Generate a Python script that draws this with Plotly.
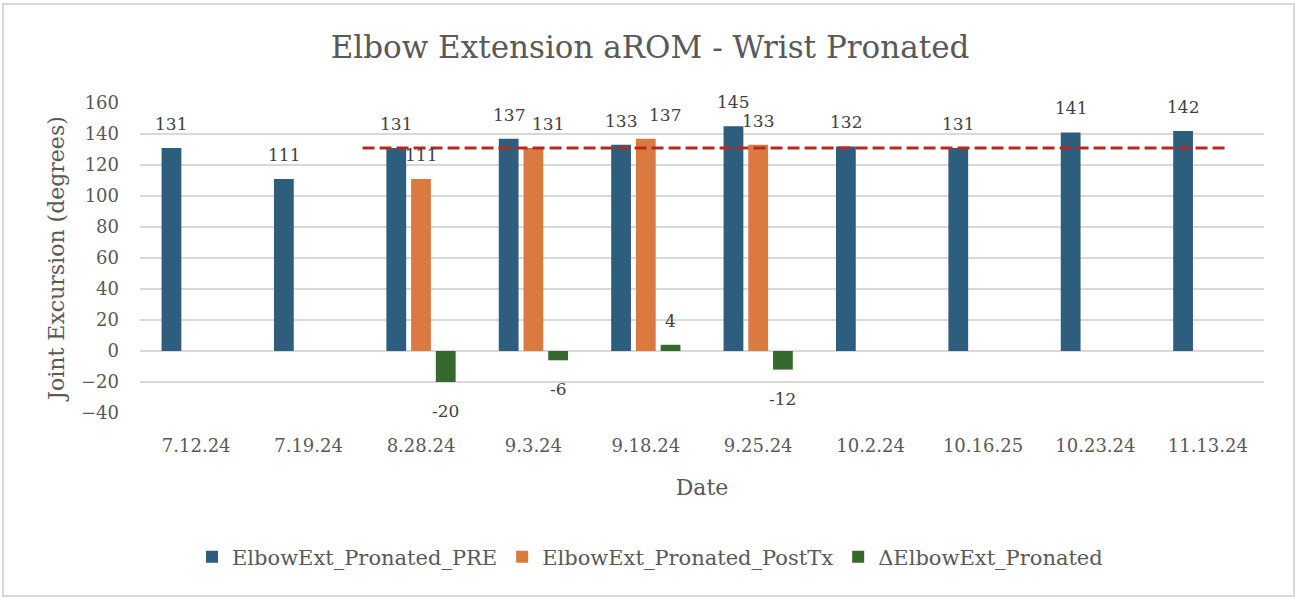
import plotly.graph_objects as go

dates = ["7.12.24", "7.19.24", "8.28.24", "9.3.24", "9.18.24", "9.25.24",
         "10.2.24", "10.16.25", "10.23.24", "11.13.24"]
pre = [131, 111, 131, 137, 133, 145, 132, 131, 141, 142]
post = [None, None, 111, 131, 137, 133, None, None, None, None]
delta = [None, None, -20, -6, 4, -12, None, None, None, None]
ref_level = 131
ref_start, ref_end = 1.48, 9.19

series_names = ["ElbowExt_Pronated_PRE", "ElbowExt_Pronated_PostTx", "\u0394ElbowExt_Pronated"]
colors = ["#2E5E7E", "#DA7940", "#36692E"]
# manual horizontal nudges (px) of a few data labels, as in the original
label_nudge = {(1, "9.3.24"): 15, (1, "9.18.24"): 19}

FONT = "DejaVu Serif"
TXT = "#595959"
W, H = 1300, 603
ML, MR, MT, MB = 140, 36, 103, 190
BARGAP, GROUPGAP = 0.34, 0.2

fig = go.Figure()
for name, vals, col in zip(series_names, [pre, post, delta], colors):
    fig.add_trace(go.Bar(x=dates, y=vals, name=name, marker_color=col,
                         marker_line_width=0))

# dashed reference line
fig.add_shape(type="line", xref="x", yref="y", x0=ref_start, x1=ref_end,
              y0=ref_level, y1=ref_level,
              line=dict(color="#B8281E", width=3, dash="12px,5px"), layer="above")

# data labels
cat_px = (W - ML - MR) / len(dates)
slot_px = (1 - BARGAP) * cat_px / 3
annos = []
for i, vals in enumerate([pre, post, delta]):
    for d, v in zip(dates, vals):
        if v is None:
            continue
        annos.append(dict(x=d, y=v, xref="x", yref="y", text=str(v), showarrow=False,
                          xshift=(i - 1) * slot_px + label_nudge.get((i, d), 0),
                          yshift=24 if v >= 0 else -29,
                          font=dict(family=FONT, size=17, color="#404040")))

# outer frame
x0p = (3 - ML) / (W - ML - MR)
x1p = (1294 - ML) / (W - ML - MR)
ph = H - MT - MB
y0p = (H - MB - 596) / ph
y1p = (H - MB - 4) / ph
fig.add_shape(type="rect", xref="paper", yref="paper", x0=x0p, x1=x1p, y0=y0p, y1=y1p,
              line=dict(color="#D9D9D9", width=2), layer="below")

fig.update_layout(
    width=W, height=H,
    margin=dict(l=ML, r=MR, t=MT, b=MB),
    paper_bgcolor="white", plot_bgcolor="white",
    barmode="group", bargap=BARGAP, bargroupgap=GROUPGAP,
    title=dict(text="Elbow Extension aROM - Wrist Pronated", x=0.5, xanchor="center",
               y=1 - 47 / H, yanchor="middle",
               font=dict(family=FONT, size=31, color=TXT)),
    font=dict(family=FONT, color=TXT),
    annotations=annos,
    legend=dict(orientation="h", xref="container", x=0.5, xanchor="center",
                yref="container", y=1 - 557 / H, yanchor="middle",
                font=dict(family=FONT, size=21, color=TXT), itemwidth=30,
                traceorder="normal"),
    xaxis=dict(title=dict(text="Date", font=dict(family=FONT, size=22, color=TXT), standoff=24),
               tickfont=dict(family=FONT, size=18, color=TXT), showgrid=False,
               showline=False, ticks="", ticklabelstandoff=20),
    yaxis=dict(title=dict(text="Joint Excursion (degrees)", font=dict(family=FONT, size=22, color=TXT),
                          standoff=10),
               range=[-40, 160], dtick=20, tickfont=dict(family=FONT, size=18, color=TXT),
               gridcolor="#D9D9D9", gridwidth=2, zeroline=True, zerolinecolor="#D9D9D9",
               zerolinewidth=2, showline=False, ticks="", ticklabelstandoff=20),
)

fig.write_html("out.html", config={"displayModeBar": False},
               post_script="document.body.style.margin='0';")
